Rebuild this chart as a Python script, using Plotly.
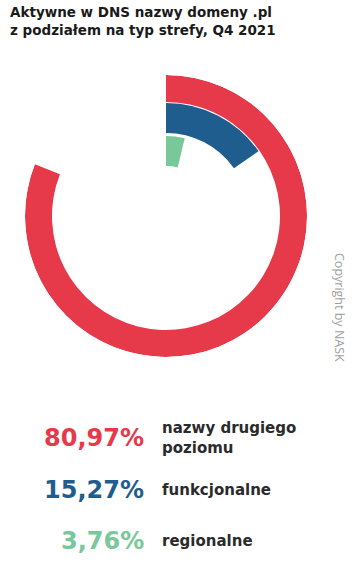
import plotly.graph_objects as go

categories = ["nazwy drugiego<br>poziomu", "funkcjonalne", "regionalne"]
values = [80.97, 15.27, 3.76]
value_labels = ["80,97%", "15,27%", "3,76%"]
colors = ["#E6394A", "#1F5D8F", "#78C89A"]
title = "Aktywne w DNS nazwy domeny .pl<br>z podziałem na typ strefy, Q4 2021"

W, H = 355, 562
# ring geometry (radial units)
outer = [141, 113, 80]
thick = [27, 30, 30]

fig = go.Figure()
for i, v in enumerate(values):
    fig.add_trace(go.Barpolar(
        r=[thick[i]], base=[outer[i] - thick[i]],
        theta=[v * 3.6 / 2], width=[v * 3.6],
        marker=dict(color=colors[i], line=dict(width=0)),
        hoverinfo="skip", showlegend=False,
    ))

cx, cy, R = 166, 216, 141
fig.update_layout(
    width=W, height=H,
    margin=dict(l=0, r=0, t=0, b=0),
    paper_bgcolor="white", plot_bgcolor="white",
    polar=dict(
        domain=dict(x=[(cx - R) / W, (cx + R) / W], y=[(H - cy - R) / H, (H - cy + R) / H]),
        bgcolor="white",
        radialaxis=dict(range=[0, R], visible=False, showgrid=False),
        angularaxis=dict(direction="clockwise", rotation=90, visible=False, showgrid=False),
        bargap=0,
    ),
)

ann = []
ann.append(dict(text="<b>" + title + "</b>", x=8 / W, y=1 - 2 / H, xref="paper", yref="paper",
                xanchor="left", yanchor="top", showarrow=False, align="left",
                font=dict(family="DejaVu Sans", size=13.5, color="#1a1a1a")))
ys = [438, 490, 541]
for i in range(3):
    ann.append(dict(text="<b>" + value_labels[i] + "</b>", x=146 / W, y=1 - ys[i] / H,
                    xref="paper", yref="paper", xanchor="right", yanchor="middle",
                    showarrow=False, font=dict(family="DejaVu Sans", size=24, color=colors[i])))
    ann.append(dict(text="<b>" + categories[i] + "</b>", x=160 / W, y=1 - ys[i] / H,
                    xref="paper", yref="paper", xanchor="left", yanchor="middle", align="left",
                    showarrow=False, font=dict(family="DejaVu Sans", size=15, color="#2b2b2b")))
ann.append(dict(text="Copyright by NASK", x=340 / W, y=1 - 307 / H, xref="paper", yref="paper",
                xanchor="center", yanchor="middle", textangle=90, showarrow=False,
                font=dict(family="Open Sans", size=12.5, color="#a0a0a0")))
fig.update_layout(annotations=ann)
fig.write_html("out.html")
